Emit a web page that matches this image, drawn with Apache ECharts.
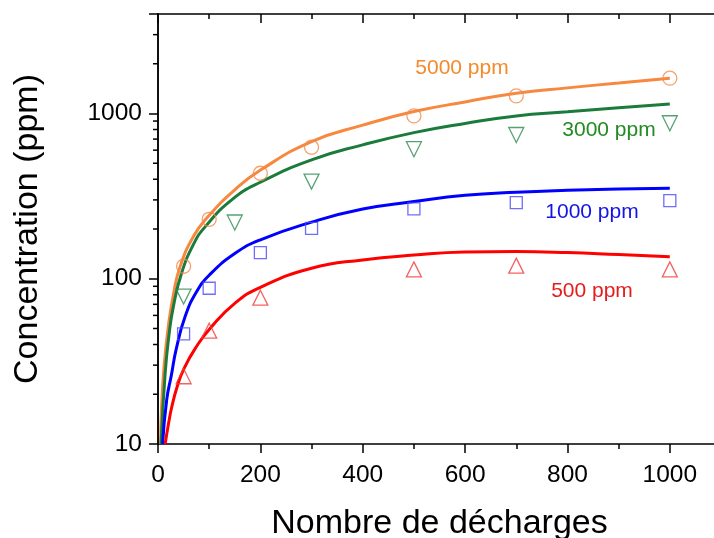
<!DOCTYPE html>
<html>
<head>
<meta charset="utf-8">
<script src="https://cdn.jsdelivr.net/npm/echarts@6/dist/echarts.min.js"></script>
<style>html,body{margin:0;padding:0;background:#fff}#c{width:714px;height:538px}</style>
</head>
<body>
<div id="c"></div>
<script>
// ---- data ----
const xTicks = [0, 200, 400, 600, 800, 1000];
const yTickLabels = [10, 100, 1000];
const yMinorTicks = [20, 30, 40, 50, 60, 70, 80, 90, 200, 300, 400, 500, 600, 700, 800, 900, 2000, 3000];

// measured points
const pts5000 = [[50, 119], [100, 229], [200, 435], [300, 625], [500, 967], [700, 1278], [1000, 1636]];
const pts3000 = [[50, 78], [150, 219], [300, 387], [500, 608], [700, 741], [1000, 873]];
const pts1000 = [[50, 46.4], [100, 87.6], [200, 144], [300, 202], [500, 265], [700, 289], [1000, 297]];
const pts500  = [[50, 25.7], [100, 48.5], [200, 76.8], [500, 114], [700, 120], [1000, 114]];

// fitted curves
const fitX5000 = [5, 7, 12, 20, 30, 43, 70, 98, 150, 201, 300, 400, 500, 600, 700, 800, 900, 1000];
const fitY5000 = [10, 16.8, 30, 51, 80, 118, 182, 238, 345, 456, 676, 850, 1027, 1175, 1327, 1429, 1530, 1636];
const fitX3000 = [6, 14, 22, 30, 46, 70, 92, 144, 201, 300, 400, 500, 600, 700, 800, 900, 1000];
const fitY3000 = [10, 26.8, 47, 67.8, 108, 163, 206, 300, 385, 524, 646, 766, 871, 967, 1023, 1084, 1140];
const fitX1000 = [9, 17, 26, 36, 53, 75, 100, 150, 200, 300, 400, 500, 600, 700, 800, 900, 1000];
const fitY1000 = [10, 18.5, 26, 38, 59, 83, 105, 142, 172, 220, 264, 293, 320, 334, 343, 349, 353];
const fitX500  = [14, 20, 27, 38, 51, 75, 102, 150, 200, 300, 400, 500, 600, 700, 800, 900, 1000];
const fitY500  = [10, 13, 16.8, 22.5, 28.7, 38.8, 50.2, 71, 88.8, 115.8, 130, 139, 145, 146, 144, 140, 136];

const seriesNames = ['5000 ppm', '3000 ppm', '1000 ppm', '500 ppm'];

// ---- styling ----
const FONT = '"Liberation Sans", Arial, sans-serif';
const cOrange = '#f7883f', cGreen = '#1b7b3b', cBlue = '#0000ff', cRed = '#ff0000';
const mOrange = '#f08a4e', mGreen = '#2e8a52', mBlue = '#4a4af5', mRed = '#f03a3a';

const zip = (xs, ys) => xs.map((x, i) => [x, ys[i]]);
const XMAX = 1100;

function lineSeries(name, data, color) {
  return { name, type: 'line', data, smooth: 0.5, showSymbol: false, symbol: 'none',
    lineStyle: { color, width: 3 }, z: 3, silent: true };
}
function scatterSeries(name, data, color, symbol, size, rotate) {
  return { name, type: 'scatter', data, symbol, symbolSize: size, symbolRotate: rotate || 0,
    itemStyle: { color: 'rgba(0,0,0,0)', borderColor: color, borderWidth: 1.3 }, z: 4, silent: true };
}
const isPow10 = v => Math.abs(Math.log10(v) - Math.round(Math.log10(v))) < 1e-6;

const axisLine = { show: true, lineStyle: { color: '#000', width: 1.5 } };

const option = {
  backgroundColor: '#fff',
  animation: false,
  grid: { left: 158, top: 14, width: 563, height: 430, containLabel: false, outerBoundsMode: 'none' },
  xAxis: [
    { type: 'value', position: 'bottom', min: 0, max: XMAX, interval: 200,
      name: 'Nombre de décharges', nameLocation: 'middle', nameGap: 63,
      nameTextStyle: { fontFamily: FONT, fontSize: 34, color: '#000' },
      axisLine, axisTick: { show: true, inside: false, length: 9, lineStyle: { color: '#000', width: 1.5 } },
      axisLabel: { show: true, fontFamily: FONT, fontSize: 24.5, color: '#000', margin: 19,
        formatter: v => (xTicks.indexOf(v) >= 0 ? String(v) : ''), showMaxLabel: false },
      splitLine: { show: false } },
    { type: 'value', position: 'bottom', min: 0, max: XMAX, interval: 100,
      axisLine: { show: false }, axisTick: { show: true, inside: false, length: 5, lineStyle: { color: '#000', width: 1.5 } },
      axisLabel: { show: false }, splitLine: { show: false } },
    { type: 'value', position: 'top', min: 0, max: XMAX, interval: 200,
      axisLine, axisTick: { show: true, inside: true, length: 9, lineStyle: { color: '#000', width: 1.5 } },
      axisLabel: { show: false }, splitLine: { show: false } },
    { type: 'value', position: 'top', min: 0, max: XMAX, interval: 100,
      axisLine: { show: false }, axisTick: { show: true, inside: true, length: 5, lineStyle: { color: '#000', width: 1.5 } },
      axisLabel: { show: false }, splitLine: { show: false } }
  ],
  yAxis: [
    { type: 'log', logBase: 10, min: 10, max: 4000, position: 'left',
      name: 'Concentration (ppm)', nameLocation: 'middle', nameGap: 113, nameRotate: 90,
      nameTextStyle: { fontFamily: FONT, fontSize: 34, color: '#000' },
      axisLine, axisTick: { show: true, inside: false, length: 9, lineStyle: { color: '#000', width: 1.5 } },
      axisLabel: { show: true, fontFamily: FONT, fontSize: 24.5, color: '#000', margin: 16,
        formatter: v => (isPow10(v) && yTickLabels.indexOf(Math.round(v)) >= 0 ? String(Math.round(v)) : '') },
      splitLine: { show: false }, minorTick: { show: false } },
    { type: 'log', logBase: 10, min: 10, max: 4000, position: 'right',
      axisLine, axisTick: { show: true, inside: true, length: 9, lineStyle: { color: '#000', width: 1.5 } },
      axisLabel: { show: false }, splitLine: { show: false } }
  ],
  graphic: [
    { type: 'text', x: 462, y: 68, style: { text: seriesNames[0], fill: '#f58a2c', font: '21px ' + FONT, align: 'center', verticalAlign: 'middle' } },
    { type: 'text', x: 609, y: 130, style: { text: seriesNames[1], fill: '#228b22', font: '21px ' + FONT, align: 'center', verticalAlign: 'middle' } },
    { type: 'text', x: 592, y: 212, style: { text: seriesNames[2], fill: '#1414e6', font: '21px ' + FONT, align: 'center', verticalAlign: 'middle' } },
    { type: 'text', x: 592, y: 291, style: { text: seriesNames[3], fill: '#e51c1c', font: '21px ' + FONT, align: 'center', verticalAlign: 'middle' } }
  ],
  series: [
    lineSeries(seriesNames[0], zip(fitX5000, fitY5000), cOrange),
    lineSeries(seriesNames[1], zip(fitX3000, fitY3000), cGreen),
    lineSeries(seriesNames[2], zip(fitX1000, fitY1000), cBlue),
    lineSeries(seriesNames[3], zip(fitX500, fitY500), cRed),
    scatterSeries(seriesNames[0], pts5000, mOrange, 'circle', 14),
    scatterSeries(seriesNames[1], pts3000, mGreen, 'triangle', 15, 180),
    scatterSeries(seriesNames[2], pts1000, mBlue, 'rect', 12),
    scatterSeries(seriesNames[3], pts500, mRed, 'triangle', 15),
    { type: 'custom', xAxisIndex: 0, yAxisIndex: 0, clip: false, silent: true, z: 10,
      data: yMinorTicks.map(v => [0, v]), encode: { x: 0, y: 1 },
      renderItem: (params, api) => {
        const p = api.coord([api.value(0), api.value(1)]);
        return { type: 'line', shape: { x1: p[0] - 5, y1: p[1], x2: p[0], y2: p[1] },
          style: { stroke: '#000', lineWidth: 1.5 } };
      } }
  ]
};

const chart = echarts.init(document.getElementById('c'), null, { renderer: 'canvas' });
chart.setOption(option);
</script>
</body>
</html>
